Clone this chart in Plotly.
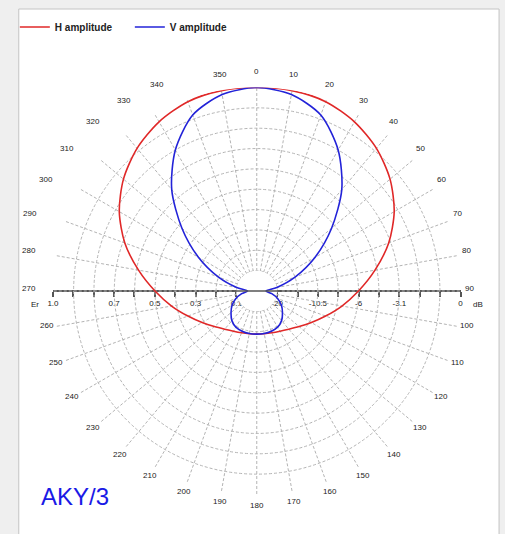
import math
import plotly.graph_objects as go

# ---- data ----
angles_half = [0, 10, 20, 30, 40, 50, 60, 70, 80, 90, 100, 110, 120, 130, 140, 150, 160, 170, 180]
h_half = [1.00, 1.00, 0.99, 0.96, 0.915, 0.855, 0.78, 0.69, 0.59, 0.50, 0.425, 0.36, 0.31, 0.272, 0.245, 0.228, 0.218, 0.213, 0.212]
v_half = [1.00, 0.98, 0.92, 0.80, 0.65, 0.48, 0.33, 0.20, 0.10, 0.045, 0.075, 0.11, 0.14, 0.165, 0.19, 0.205, 0.21, 0.212, 0.212]

# symmetric pattern: mirror 180..360
angles = angles_half + [360 - a for a in reversed(angles_half[:-1])]
h_amp = h_half + list(reversed(h_half[:-1]))
v_amp = v_half + list(reversed(v_half[:-1]))

angle_ticks = list(range(0, 360, 10))
angle_text = [str(a) for a in angle_ticks]

# horizontal scale: linear Er on the left, dB on the right
scale_ticks = [-1.0, -0.9, -0.8, -0.7, -0.6, -0.5, -0.4, -0.3, -0.2, -0.1,
               0.1, 0.2, 0.3, 0.4, 0.5, 0.6, 0.7, 0.8, 0.9, 1.0]
scale_text = ["1.0", "", "", "0.7", "", "0.5", "", "0.3", "", "0.1",
              "-20", "", "-10.5", "", "-6", "", "-3.1", "", "", "0"]
inner_r = 0.1

W, H = 505, 534
cx, cy, R = 255.3, 291.0, 207.5
xdom = [(cx - R) / W, (cx + R) / W]
ydom = [(H - (cy + R)) / H, (H - (cy - R)) / H]

fig = go.Figure()

# blank the centre of the grid
fig.add_trace(go.Scatterpolar(
    r=[inner_r] * len(angles), theta=angles, mode="lines", fill="toself",
    fillcolor="white", line=dict(width=0, color="white"),
    showlegend=False, hoverinfo="skip"))

fig.add_trace(go.Scatterpolar(
    r=h_amp, theta=angles, mode="lines", name="H amplitude",
    line=dict(color="#e02828", width=1.6, shape="spline", smoothing=0.8)))
fig.add_trace(go.Scatterpolar(
    r=v_amp, theta=angles, mode="lines", name="V amplitude",
    line=dict(color="#2323d8", width=1.6, shape="spline", smoothing=0.8)))

# invisible trace to activate the cartesian scale axis
fig.add_trace(go.Scatter(
    x=[scale_ticks[0], scale_ticks[-1]], y=[0, 0], mode="markers",
    marker=dict(opacity=0), showlegend=False, hoverinfo="skip",
    xaxis="x", yaxis="y"))

# angular labels (placed just outside the rim; upper-left ones sit further out)
label_r = 217.0
annotations = []
for a, t in zip(angle_ticks, angle_text):
    rad = math.radians(a)
    px = cx + label_r * math.sin(rad)
    py = cy - label_r * math.cos(rad) - 3
    if 290 <= a <= 340:
        px -= 27
    elif a == 280:
        px -= 18
    elif a == 270:
        px -= 15
    annotations.append(dict(text=t, x=px / W, y=(H - py) / H, xref="paper", yref="paper",
                            xanchor="center", yanchor="middle", showarrow=False,
                            font=dict(size=8, color="#222222")))

annotations += [
    dict(text="Er", x=30 / W, y=(H - 304) / H, xref="paper", yref="paper",
         xanchor="center", yanchor="middle", showarrow=False,
         font=dict(size=8, color="#222222")),
    dict(text="dB", x=481 / W, y=(H - 304) / H, xref="paper", yref="paper",
         xanchor="center", yanchor="middle", showarrow=False,
         font=dict(size=8, color="#222222")),
    dict(text="AKY/3", x=34 / W, y=(H - 497) / H, xref="paper", yref="paper",
         xanchor="left", yanchor="middle", showarrow=False,
         font=dict(size=24, color="#1a1ae6")),
]

grid_col = "#b4b4b4"
fig.update_layout(
    width=W, height=H,
    margin=dict(l=0, r=0, t=0, b=0),
    paper_bgcolor="#efefef",
    plot_bgcolor="rgba(0,0,0,0)",
    font=dict(family="Liberation Sans, Arial, sans-serif", color="#222222"),
    polar=dict(
        domain=dict(x=xdom, y=ydom),
        bgcolor="rgba(0,0,0,0)",
        radialaxis=dict(range=[0, 1.0015], dtick=0.1, tick0=0, showticklabels=False,
                        ticks="", showline=False, gridcolor=grid_col, griddash="3px,2px",
                        gridwidth=1),
        angularaxis=dict(rotation=90, direction="clockwise", showline=False,
                         tickmode="array", tickvals=angle_ticks, ticktext=angle_text,
                         showticklabels=False,
                         gridcolor=grid_col, griddash="3px,2px", gridwidth=1, ticks=""),
    ),
    xaxis=dict(domain=xdom, range=[-1, 1], anchor="free",
               position=(H - cy) / H, showgrid=False, zeroline=False,
               showline=True, linecolor="#555555", linewidth=1.5,
               ticks="outside", ticklen=5, tickwidth=1.5, tickcolor="#555555",
               tickvals=scale_ticks, ticktext=scale_text,
               tickfont=dict(size=8, color="#222222"), fixedrange=True),
    yaxis=dict(domain=ydom, range=[-1, 1], visible=False, fixedrange=True),
    legend=dict(orientation="h", x=9 / W, y=(H - 27) / H, xanchor="left",
                yanchor="middle", bgcolor="rgba(0,0,0,0)",
                font=dict(size=10, color="#222222", weight="bold"),
                entrywidth=70, entrywidthmode="pixels", itemwidth=30),
    shapes=[
        dict(type="rect", xref="paper", yref="paper", x0=13 / W, x1=502 / W,
             y0=-0.05, y1=(H - 9) / H, fillcolor="white",
             line=dict(color="#c4c4c4", width=1), layer="below"),
        dict(type="line", xref="x", yref="y", x0=-inner_r - 0.02, x1=inner_r + 0.02,
             y0=0, y1=0, line=dict(color="#555555", width=1.5), layer="above"),
    ],
    annotations=annotations,
)

fig.write_html("out.html", config={"displayModeBar": False},
               post_script="document.body.style.margin='0';document.body.style.overflow='hidden';")
